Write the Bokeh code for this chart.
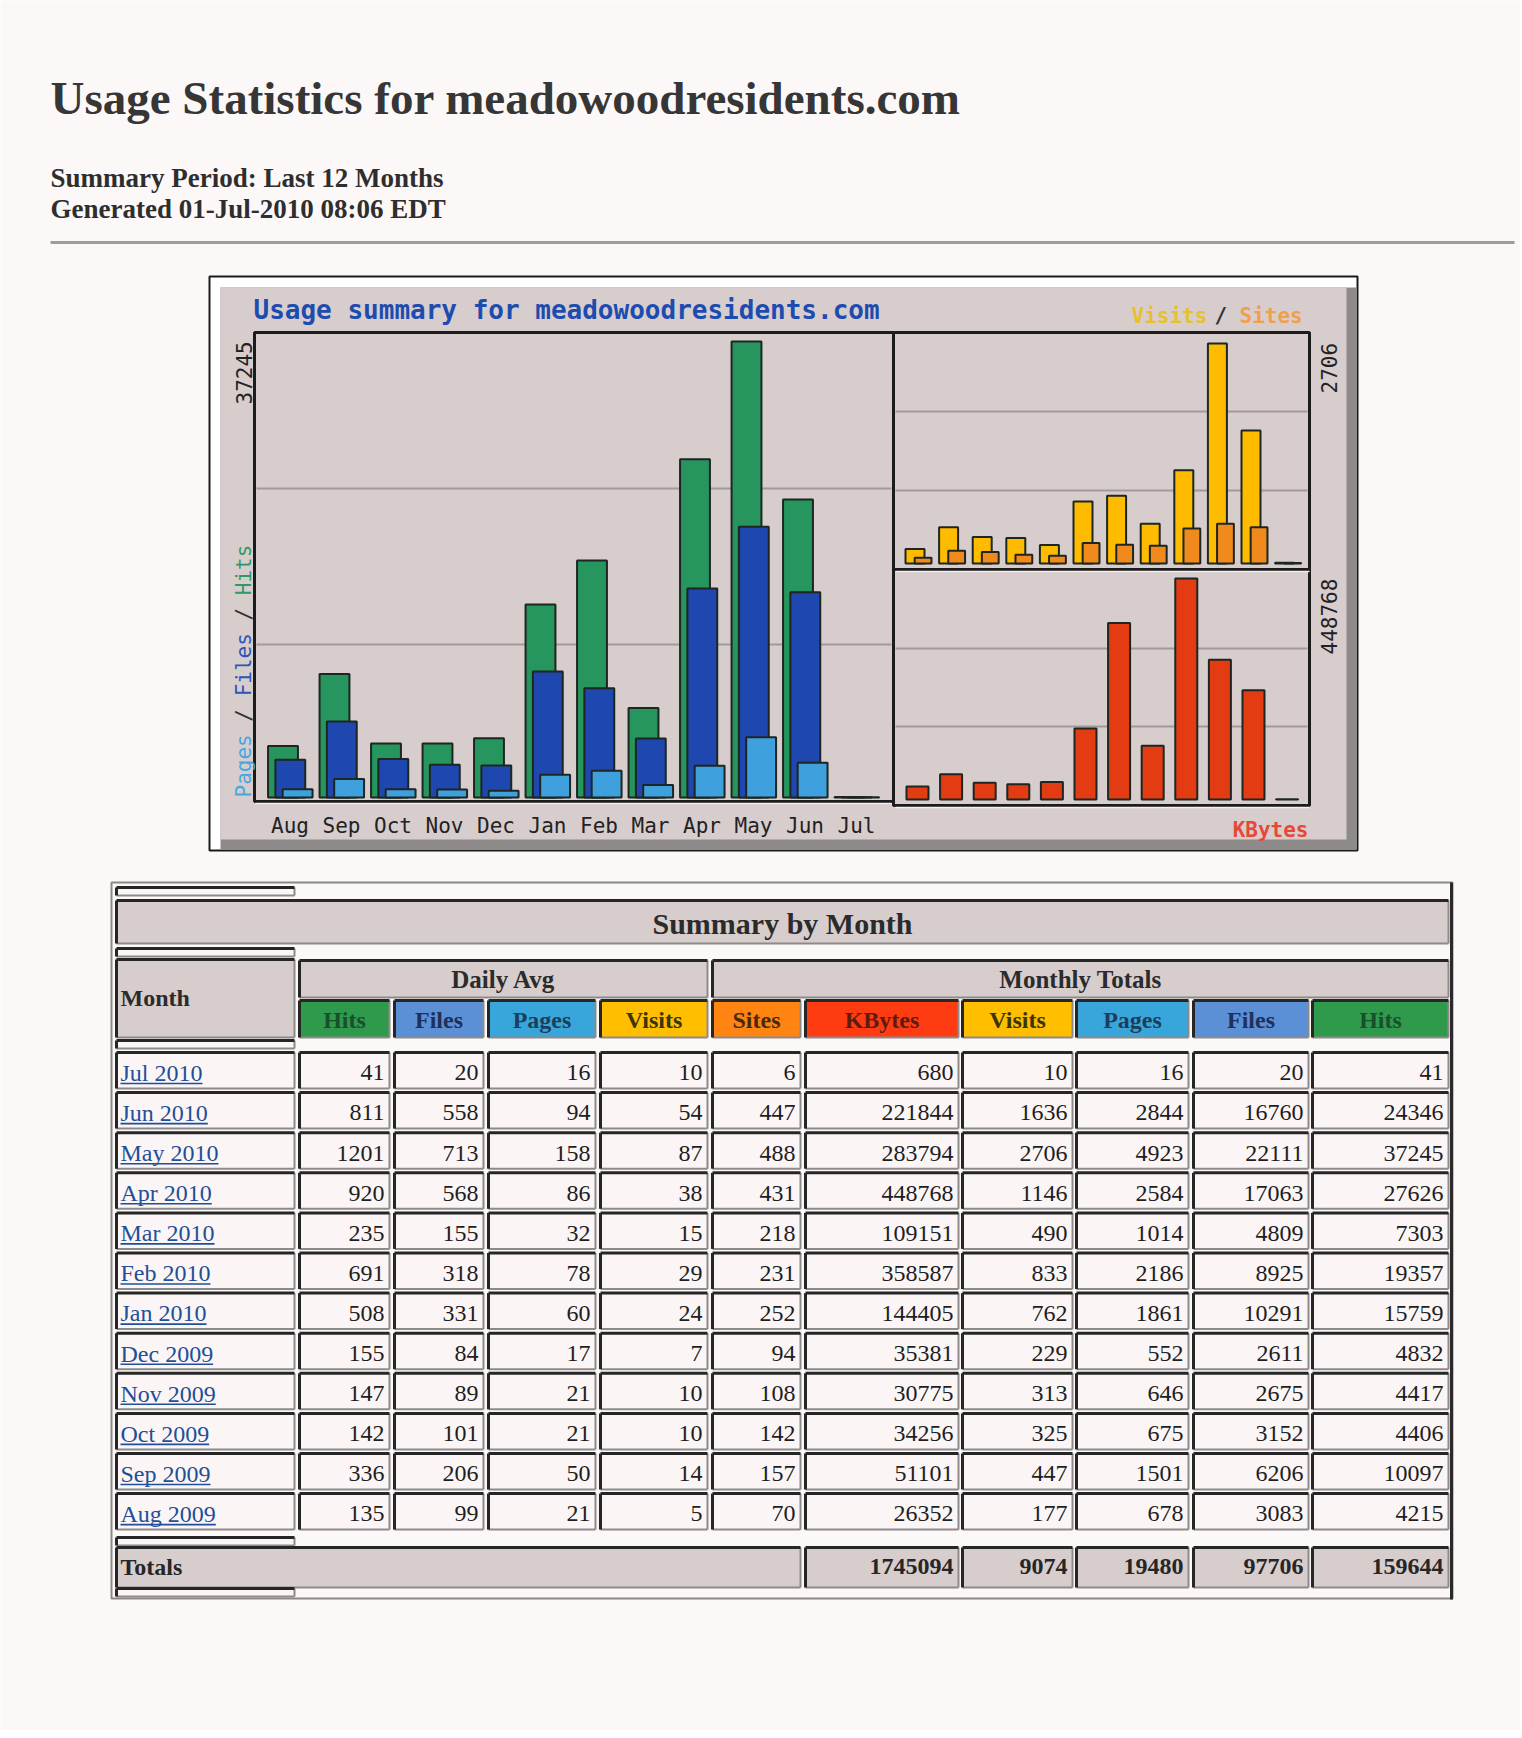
import math
from bokeh.plotting import figure
from bokeh.models import Range1d, ColumnDataSource
from bokeh.core.properties import value
from bokeh.transform import dodge
from bokeh.embed import file_html
from bokeh.resources import INLINE

# ---------------- data ----------------
table_months = ["Jul 2010", "Jun 2010", "May 2010", "Apr 2010", "Mar 2010", "Feb 2010",
                "Jan 2010", "Dec 2009", "Nov 2009", "Oct 2009", "Sep 2009", "Aug 2009"]
avg_hits = [41, 811, 1201, 920, 235, 691, 508, 155, 147, 142, 336, 135]
avg_files = [20, 558, 713, 568, 155, 318, 331, 84, 89, 101, 206, 99]
avg_pages = [16, 94, 158, 86, 32, 78, 60, 17, 21, 21, 50, 21]
avg_visits = [10, 54, 87, 38, 15, 29, 24, 7, 10, 10, 14, 5]
tot_sites = [6, 447, 488, 431, 218, 231, 252, 94, 108, 142, 157, 70]
tot_kbytes = [680, 221844, 283794, 448768, 109151, 358587, 144405, 35381, 30775, 34256, 51101, 26352]
tot_visits = [10, 1636, 2706, 1146, 490, 833, 762, 229, 313, 325, 447, 177]
tot_pages = [16, 2844, 4923, 2584, 1014, 2186, 1861, 552, 646, 675, 1501, 678]
tot_files = [20, 16760, 22111, 17063, 4809, 8925, 10291, 2611, 2675, 3152, 6206, 3083]
tot_hits = [41, 24346, 37245, 27626, 7303, 19357, 15759, 4832, 4417, 4406, 10097, 4215]
grand_totals = [1745094, 9074, 19480, 97706, 159644]   # KBytes, Visits, Pages, Files, Hits
chart_months = ["Aug", "Sep", "Oct", "Nov", "Dec", "Jan", "Feb", "Mar", "Apr", "May", "Jun", "Jul"]
col_headers = ["Hits", "Files", "Pages", "Visits", "Sites", "KBytes", "Visits", "Pages", "Files", "Hits"]

page_title = "Usage Statistics for meadowoodresidents.com"
sub1 = "Summary Period: Last 12 Months"
sub2 = "Generated 01-Jul-2010 08:06 EDT"
chart_title = "Usage summary for meadowoodresidents.com"

# ---------------- styles ----------------
BG = "#fcf8f8"
CH_GRAY = "#d8cdcd"
GRID = "#a29999"
FRAME = "#1c1c1c"
GREEN = "#27955e"
BLUE = "#1f47b0"
LBLUE = "#3fa0de"
YELLOW = "#ffbb00"
ORANGE = "#f08a1c"
RED = "#e33b12"
BAR_LINE = "#1d2620"
SERIF = value("Liberation Serif")
MONO = value("DejaVu Sans Mono")

W, H = 1520, 1730
X0, Y0 = 0, 0

p = figure(width=W, height=H, x_range=Range1d(X0, X0 + W), y_range=Range1d(Y0 + H, Y0),
           output_backend="svg", toolbar_location=None, x_axis_type=None, y_axis_type=None,
           title=None, min_border=0, background_fill_color=BG, border_fill_color=BG,
           outline_line_color=None)


def mapped_range(v0, p0, v1, p1, a, b):
    f0 = (p0 - a) / (b - a)
    f1 = (p1 - a) / (b - a)
    span = (v1 - v0) / (f1 - f0)
    s = v0 - f0 * span
    return Range1d(start=s, end=s + span)


def mid(baseline, fs):
    # anchor for text_baseline="middle" given a wanted alphabetic baseline
    return baseline - 0.32 * fs


XA, XB = X0, X0 + W
YA, YB = Y0 + H, Y0

# chronological series for the graph
c_hits = tot_hits[::-1]
c_files = tot_files[::-1]
c_pages = tot_pages[::-1]
c_visits = tot_visits[::-1]
c_sites = tot_sites[::-1]
c_kbytes = tot_kbytes[::-1]
idx = list(range(len(chart_months)))

p.extra_x_ranges = {
    "lx": mapped_range(0, 282.5, 11, 282.5 + 11 * 51.5, XA, XB),
    "rx": mapped_range(0, 914.5, 11, 914.5 + 11 * 33.6, XA, XB),
}
p.extra_y_ranges = {
    "ly": mapped_range(0, 797, max(c_hits), 341, YA, YB),
    "ry1": mapped_range(0, 563, max(c_visits), 343, YA, YB),
    "ry2": mapped_range(0, 799, max(c_kbytes), 578, YA, YB),
}

# ---------------- page header ----------------
p.text(x=[50], y=[mid(113, 47)], text=[page_title], text_font=SERIF, text_font_style="bold",
       text_font_size="47px", text_color="#363636", text_baseline="middle")
p.text(x=[50, 50], y=[mid(186, 27), mid(217, 27)], text=[sub1, sub2], text_font=SERIF,
       text_font_style="bold", text_font_size="27px", text_color="#2e2e2e", text_baseline="middle")
p.segment(x0=[50], y0=[242], x1=[1514], y1=[242], line_color="#a09c9c", line_width=3)

# ---------------- graph box ----------------
p.quad(left=[209], right=[1357], top=[276], bottom=[850], fill_color="#ffffff",
       line_color="#1a1a1a", line_width=2)
p.quad(left=[220], right=[1356], top=[287], bottom=[849], fill_color="#8f8a8a", line_color=None)
p.quad(left=[220], right=[1346], top=[287], bottom=[839], fill_color=CH_GRAY, line_color=None)

# grid lines
p.segment(x0=[256, 256, 895, 895, 895, 895], y0=[488, 644, 411, 490, 648, 726],
          x1=[891, 891, 1307, 1307, 1307, 1307], y1=[488, 644, 411, 490, 648, 726],
          line_color=GRID, line_width=2)

src_c = ColumnDataSource(dict(i=idx, m=chart_months, hits=c_hits, files=c_files, pages=c_pages,
                              visits=c_visits, sites=c_sites, kbytes=c_kbytes))

bar_kw = dict(bottom=0, line_color=BAR_LINE, line_width=2, source=src_c)
p.vbar(x=dodge("i", 0.0), top="hits", width=0.58, fill_color=GREEN,
       x_range_name="lx", y_range_name="ly", **bar_kw)
p.vbar(x=dodge("i", 0.142), top="files", width=0.58, fill_color=BLUE,
       x_range_name="lx", y_range_name="ly", **bar_kw)
p.vbar(x=dodge("i", 0.284), top="pages", width=0.58, fill_color=LBLUE,
       x_range_name="lx", y_range_name="ly", **bar_kw)
p.vbar(x=dodge("i", 0.0), top="visits", width=0.565, fill_color=YELLOW,
       x_range_name="rx", y_range_name="ry1", **bar_kw)
p.vbar(x=dodge("i", 0.24), top="sites", width=0.5, fill_color=ORANGE,
       x_range_name="rx", y_range_name="ry1", **bar_kw)
p.vbar(x=dodge("i", 0.074), top="kbytes", width=0.655, fill_color=RED,
       x_range_name="rx", y_range_name="ry2", **bar_kw)

# panel frames
p.quad(left=[254, 893, 893], right=[893, 1309, 1309], top=[332, 332, 569],
       bottom=[801, 569, 805], fill_color=None, line_color=FRAME, line_width=3)
p.segment(x0=[255, 895, 895], y0=[803, 571, 807], x1=[891, 1309, 1309], y1=[803, 571, 807],
          line_color="#f4f0f0", line_width=1.5)

# month labels
p.text(x=dodge("i", -0.233), y=mid(832, 21), text="m", source=src_c, x_range_name="lx",
       text_font=MONO, text_font_size="21px", text_color="#222222", text_baseline="middle")

# graph titles / legends
p.text(x=[253], y=[mid(318, 26)], text=[chart_title], text_font=MONO, text_font_style="bold",
       text_font_size="26px", text_color="#1d4cb0", text_baseline="middle")
CW = 0.602 * 21
p.text(x=[1131, 1214, 1239], y=[mid(322, 21)] * 3, text=["Visits", "/", "Sites"],
       text_color=["#e6c12c", "#333333", "#f0a048"], text_font=MONO, text_font_style="bold",
       text_font_size="21px", text_baseline="middle")
p.text(x=[1308], y=[mid(836, 21)], text=["KBytes"], text_color="#e8483a", text_font=MONO,
       text_font_style="bold", text_font_size="21px", text_align="right", text_baseline="middle")

# rotated labels
rot = dict(angle=math.pi / 2, text_font=MONO, text_font_size="21px", text_align="left",
           text_baseline="middle")
p.text(x=[243], y=[404], text=[str(max(c_hits))], text_color="#222222", **rot)
p.text(x=[1328], y=[393], text=[str(max(c_visits))], text_color="#222222", **rot)
p.text(x=[1328], y=[654], text=[str(max(c_kbytes))], text_color="#222222", **rot)
segs = ["Pages", "/", "Files", "/", "Hits"]
seg_start = [0, 6, 8, 14, 16]
seg_cols = ["#4aa6e0", "#333333", "#2f55b8", "#333333", "#2f9a64"]
ys = [797 - s * CW for s in seg_start]
p.text(x=[243] * len(segs), y=ys, text=segs, text_color=seg_cols, **rot)

# ---------------- table ----------------
COLS = [(116, 294), (299, 389), (394, 483), (488, 595), (600, 707), (712, 800),
        (805, 958), (962, 1072), (1076, 1188), (1193, 1308), (1312, 1448)]
HEAD_FILL = ["#2f9a4c", "#5b8fd6", "#38a6db", "#ffbf00", "#ff8412", "#ff3b12",
             "#ffbf00", "#38a6db", "#5b8fd6", "#2f9a4c"]
HEAD_TXT = ["#1a4f2c", "#1e3158", "#1c3e5c", "#3b3508", "#4a2a0e", "#5e1c10",
            "#3b3508", "#1c3e5c", "#1e3158", "#1a4f2c"]
HDR_GRAY = "#d7cdcd"
CELL_BG = "#fbf5f6"

cq = dict(l=[], r=[], t=[], b=[], f=[])
dk = dict(x0=[], y0=[], x1=[], y1=[])
lt = dict(x0=[], y0=[], x1=[], y1=[])


def add_cell(x0, x1, y0, y1, fill):
    cq["l"].append(x0); cq["r"].append(x1); cq["t"].append(y0); cq["b"].append(y1); cq["f"].append(fill)
    for a, b_, c, d in ((x0, y0, x1, y0), (x0, y0, x0, y1)):
        dk["x0"].append(a); dk["y0"].append(b_); dk["x1"].append(c); dk["y1"].append(d)
    for a, b_, c, d in ((x0, y1, x1, y1), (x1, y0, x1, y1)):
        lt["x0"].append(a); lt["y0"].append(b_); lt["x1"].append(c); lt["y1"].append(d)


# separator mini cells in the Month column
for y0, y1 in ((887, 895), (948, 956), (1040, 1048), (1537, 1545), (1588, 1596)):
    add_cell(116, 294, y0, y1, CELL_BG)
# header rows
add_cell(116, 1448, 900, 943, HDR_GRAY)
add_cell(116, 294, 959, 1037, HDR_GRAY)
add_cell(299, 707, 960, 997, HDR_GRAY)
add_cell(712, 1448, 960, 997, HDR_GRAY)
for k in range(10):
    add_cell(COLS[k + 1][0], COLS[k + 1][1], 1000, 1037, HEAD_FILL[k])

ROW0, PITCH, ROWH = 1052, 40.1, 36
FS = 24
value_cols = [avg_hits, avg_files, avg_pages, avg_visits, tot_sites, tot_kbytes,
              tot_visits, tot_pages, tot_files, tot_hits]
num = dict(x=[], y=[], t=[])
for r in range(len(table_months)):
    y0 = ROW0 + r * PITCH
    for c in range(11):
        add_cell(COLS[c][0], COLS[c][1], y0, y0 + ROWH, CELL_BG)
    for c, vals in enumerate(value_cols):
        num["x"].append(COLS[c + 1][1] - 5)
        num["y"].append(mid(y0 + 28, FS))
        num["t"].append(str(vals[r]))

# totals row
add_cell(116, 800, 1547, 1587, HDR_GRAY)
tot = dict(x=[], y=[], t=[])
for k, v in enumerate(grand_totals):
    add_cell(COLS[6 + k][0], COLS[6 + k][1], 1547, 1587, HDR_GRAY)
    tot["x"].append(COLS[6 + k][1] - 5)
    tot["y"].append(mid(1574, FS))
    tot["t"].append(str(v))

# outer table border
p.quad(left=[111], right=[1452], top=[882], bottom=[1598], fill_color=None,
       line_color="#8c8888", line_width=2)
p.segment(x0=[1451], y0=[882], x1=[1451], y1=[1599], line_color="#2a2a2a", line_width=3)

p.quad(left="l", right="r", top="t", bottom="b", fill_color="f", line_color=None,
       source=ColumnDataSource(cq))
p.segment(x0="x0", y0="y0", x1="x1", y1="y1", line_color="#8e8a8a", line_width=2,
          source=ColumnDataSource(lt))
p.segment(x0="x0", y0="y0", x1="x1", y1="y1", line_color="#262626", line_width=3,
          source=ColumnDataSource(dk))

# header texts
p.text(x=[782], y=[mid(933, 30)], text=["Summary by Month"], text_font=SERIF,
       text_font_style="bold", text_font_size="30px", text_color="#2b2b2b", text_align="center",
       text_baseline="middle")
p.text(x=[503, 1080], y=[mid(987, 25)] * 2, text=["Daily Avg", "Monthly Totals"], text_font=SERIF,
       text_font_style="bold", text_font_size="25px", text_color="#2b2b2b", text_align="center",
       text_baseline="middle")
p.text(x=[120], y=[mid(1005, 24)], text=["Month"], text_font=SERIF, text_font_style="bold",
       text_font_size="24px", text_color="#2b2b2b", text_baseline="middle")
p.text(x=[(COLS[k + 1][0] + COLS[k + 1][1]) / 2 for k in range(10)], y=[mid(1027, 24)] * 10,
       text=col_headers, text_color=HEAD_TXT, text_font=SERIF, text_font_style="bold",
       text_font_size="24px", text_align="center", text_baseline="middle")

# numbers
p.text(x="x", y="y", text="t", source=ColumnDataSource(num), text_font=SERIF,
       text_font_size="24px", text_color="#1e1e1e", text_align="right", text_baseline="middle")
p.text(x="x", y="y", text="t", source=ColumnDataSource(tot), text_font=SERIF,
       text_font_style="bold", text_font_size="24px", text_color="#262626", text_align="right",
       text_baseline="middle")
p.text(x=[120], y=[mid(1574, FS)], text=["Totals"], text_font=SERIF, text_font_style="bold",
       text_font_size="24px", text_color="#262626", text_baseline="middle")

# month links with underline
CHW = {"J": 389, "u": 500, "l": 278, "n": 500, "M": 889, "a": 444, "y": 500, "A": 722,
       "p": 500, "r": 333, "F": 556, "e": 444, "b": 500, "D": 722, "c": 444, "N": 722,
       "o": 500, "v": 500, "O": 722, "t": 278, "S": 556, "g": 500, " ": 250}
lk = dict(x=[], y=[], t=[])
ul = dict(x0=[], y0=[], x1=[], y1=[])
for r, m in enumerate(table_months):
    yb = ROW0 + r * PITCH + 28
    lk["x"].append(120); lk["y"].append(mid(yb, FS)); lk["t"].append(m)
    wpx = sum(CHW.get(ch, 500) for ch in m) * FS / 1000.0
    ul["x0"].append(120); ul["x1"].append(120 + wpx)
    ul["y0"].append(yb + 3); ul["y1"].append(yb + 3)
p.text(x="x", y="y", text="t", source=ColumnDataSource(lk), text_font=SERIF,
       text_font_size="24px", text_color="#1f4f98", text_baseline="middle")
p.segment(x0="x0", y0="y0", x1="x1", y1="y1", source=ColumnDataSource(ul),
          line_color="#1f4f98", line_width=1.6)

open("out.html", "w").write(file_html(p, INLINE))
